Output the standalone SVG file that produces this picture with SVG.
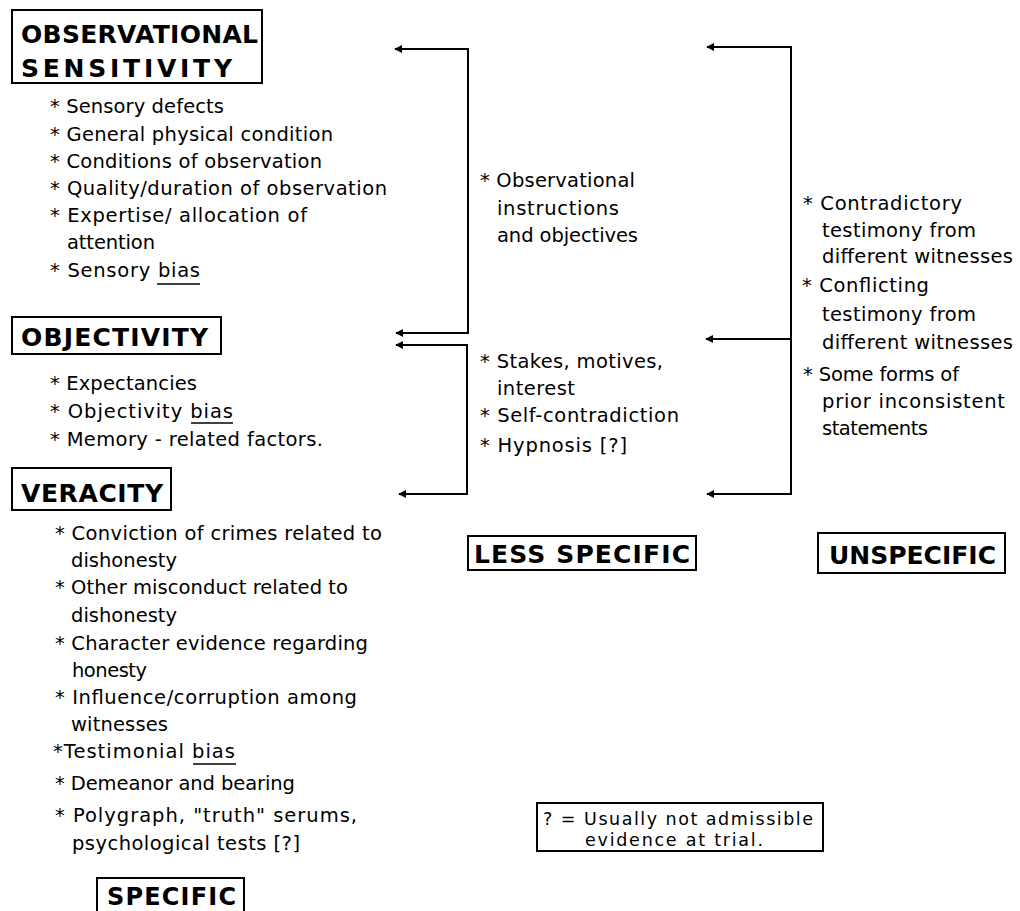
<svg xmlns="http://www.w3.org/2000/svg" width="1020" height="911" viewBox="0 0 1020 911">
<style>
.bg{fill:#fff}
.box{fill:none;stroke:#000;stroke-width:2}
.h{font-family:"DejaVu Sans","Liberation Sans",sans-serif;font-weight:bold;font-size:25px;fill:#000}
.t{font-family:"DejaVu Sans","Liberation Sans",sans-serif;font-size:19.5px;fill:#000}
.fn{font-family:"DejaVu Sans","Liberation Sans",sans-serif;font-size:17.5px;fill:#000}
.ln{fill:none;stroke:#000;stroke-width:2}
.ul{stroke:#000;stroke-width:1.5}
</style>
<defs>
<marker id="ah" viewBox="0 0 10 10" refX="9" refY="5" markerWidth="8" markerHeight="9" orient="auto" markerUnits="userSpaceOnUse">
<path d="M0,0 L10,5 L0,10 z" fill="#000"/>
</marker>
</defs>
<rect class="bg" x="0" y="0" width="1020" height="911"/>

<g id="observational-sensitivity">
<rect class="box" x="12" y="10" width="250" height="73"/>
<text class="h" x="21" y="43" textLength="237">OBSERVATIONAL</text>
<text class="h" x="21" y="77" textLength="211">SENSITIVITY</text>
<text class="t" x="50" y="113" textLength="174">* Sensory defects</text>
<text class="t" x="50" y="141" textLength="283">* General physical condition</text>
<text class="t" x="50" y="168" textLength="272">* Conditions of observation</text>
<text class="t" x="50" y="195" textLength="337">* Quality/duration of observation</text>
<text class="t" x="50" y="222" textLength="257">* Expertise/ allocation of</text>
<text class="t" x="67" y="249" textLength="88">attention</text>
<text class="t" x="50" y="277" textLength="150">* Sensory bias</text>
<line class="ul" x1="157" y1="284" x2="200" y2="284"/>
</g>

<g id="objectivity">
<rect class="box" x="12" y="317" width="209" height="37"/>
<text class="h" x="21" y="346" textLength="187">OBJECTIVITY</text>
<text class="t" x="50" y="390" textLength="147">* Expectancies</text>
<text class="t" x="50" y="418" textLength="183">* Objectivity bias</text>
<line class="ul" x1="191" y1="423" x2="233" y2="423"/>
<text class="t" x="50" y="446" textLength="273">* Memory - related factors.</text>
</g>

<g id="veracity">
<rect class="box" x="12" y="468" width="159" height="42"/>
<text class="h" x="21" y="502" textLength="142">VERACITY</text>
<text class="t" x="55" y="540" textLength="327">* Conviction of crimes related to</text>
<text class="t" x="71" y="567" textLength="106">dishonesty</text>
<text class="t" x="55" y="594" textLength="293">* Other misconduct related to</text>
<text class="t" x="71" y="622" textLength="106">dishonesty</text>
<text class="t" x="55" y="650" textLength="313">* Character evidence regarding</text>
<text class="t" x="72" y="677" textLength="75">honesty</text>
<text class="t" x="55" y="704" textLength="302">* Influence/corruption among</text>
<text class="t" x="71" y="731" textLength="97">witnesses</text>
<text class="t" x="53" y="758" textLength="182">*Testimonial bias</text>
<line class="ul" x1="193" y1="764" x2="236" y2="764"/>
<text class="t" x="55" y="790" textLength="240">* Demeanor and bearing</text>
<text class="t" x="55" y="822" textLength="302">* Polygraph, "truth" serums,</text>
<text class="t" x="72" y="850" textLength="228">psychological tests [?]</text>
</g>

<g id="specific">
<rect class="box" x="97" y="878" width="147" height="40"/>
<text class="h" x="107" y="905" textLength="129" style="font-size:24px">SPECIFIC</text>
</g>

<g id="less-specific">
<text class="t" x="480" y="187" textLength="155">* Observational</text>
<text class="t" x="497" y="215" textLength="122">instructions</text>
<text class="t" x="497" y="242" textLength="141">and objectives</text>
<text class="t" x="480" y="368" textLength="183">* Stakes, motives,</text>
<text class="t" x="497" y="395" textLength="78">interest</text>
<text class="t" x="480" y="422" textLength="199">* Self-contradiction</text>
<text class="t" x="480" y="452" textLength="147">* Hypnosis [?]</text>
<rect class="box" x="468" y="536" width="228" height="34"/>
<text class="h" x="474" y="563" textLength="216">LESS SPECIFIC</text>
</g>

<g id="unspecific">
<text class="t" x="803" y="210" textLength="159">* Contradictory</text>
<text class="t" x="822" y="237" textLength="154">testimony from</text>
<text class="t" x="822" y="263" textLength="191">different witnesses</text>
<text class="t" x="802" y="292" textLength="127">* Conflicting</text>
<text class="t" x="822" y="321" textLength="154">testimony from</text>
<text class="t" x="822" y="349" textLength="191">different witnesses</text>
<text class="t" x="803" y="381" textLength="156">* Some forms of</text>
<text class="t" x="822" y="408" textLength="183">prior inconsistent</text>
<text class="t" x="822" y="435" textLength="106">statements</text>
<rect class="box" x="818" y="533" width="187" height="40"/>
<text class="h" x="829" y="564" textLength="167">UNSPECIFIC</text>
</g>

<g id="footnote">
<rect class="box" x="537" y="803" width="286" height="48"/>
<text class="fn" x="543" y="825" textLength="270">? = Usually not admissible</text>
<text class="fn" x="585" y="846" textLength="178">evidence at trial.</text>
</g>

<g id="connectors">
<path class="ln" d="M468,49 V333"/>
<path class="ln" d="M469,49 H395" marker-end="url(#ah)"/>
<path class="ln" d="M469,333 H396" marker-end="url(#ah)"/>
<path class="ln" d="M467,345 V494"/>
<path class="ln" d="M468,345 H396" marker-end="url(#ah)"/>
<path class="ln" d="M468,494 H399" marker-end="url(#ah)"/>
<path class="ln" d="M791,47 V494"/>
<path class="ln" d="M792,47 H707" marker-end="url(#ah)"/>
<path class="ln" d="M792,339 H706" marker-end="url(#ah)"/>
<path class="ln" d="M792,494 H707" marker-end="url(#ah)"/>
</g>
</svg>
